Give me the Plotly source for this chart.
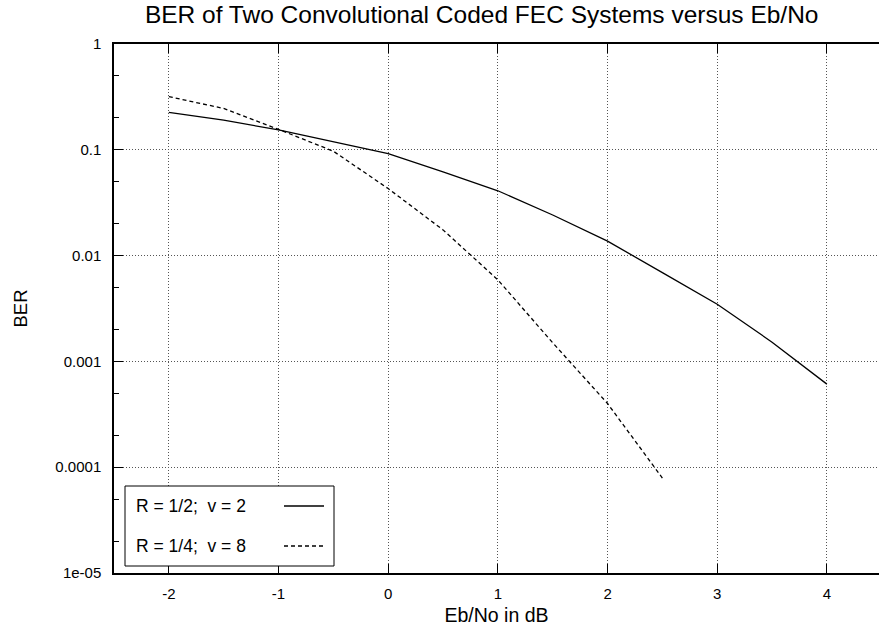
import plotly.graph_objects as go

# Eb/No sample points in dB
ebno_r12 = [-2, -1.5, -1, -0.5, 0, 0.5, 1, 1.5, 2, 2.5, 3, 3.5, 4]
ber_r12 = [0.226, 0.191, 0.154, 0.119, 0.092, 0.062, 0.041, 0.0242, 0.0137,
           0.0069, 0.00347, 0.00152, 0.00061]

ebno_r14 = [-2, -1.5, -1, -0.5, 0, 0.5, 1, 1.5, 2, 2.5]
ber_r14 = [0.318, 0.246, 0.156, 0.097, 0.043, 0.0175, 0.0059, 0.0015,
           0.0004, 0.000079]

series_names = ["R = 1/2;  v = 2", "R = 1/4;  v = 8"]
x_ticks = [-2, -1, 0, 1, 2, 3, 4]
y_ticks = [1, 0.1, 0.01, 0.001, 0.0001, 0.00001]
y_tick_text = ["1", "0.1", "0.01", "0.001", "0.0001", "1e-05"]

FONT = "Liberation Sans, Arial, sans-serif"
W, H = 879, 633
L, R, T, B = 114, 0, 44, 60

fig = go.Figure()
fig.add_trace(go.Scatter(x=ebno_r12, y=ber_r12, mode="lines", name=series_names[0],
                         line=dict(color="black", width=1.3), showlegend=False))
fig.add_trace(go.Scatter(x=ebno_r14, y=ber_r14, mode="lines", name=series_names[1],
                         line=dict(color="black", width=1.3, dash="4px,3px"),
                         showlegend=False))

# hand-built legend box: label text on the left, line sample on the right
pw = W - L - R
ph = H - T - B
def px(xp):
    return (xp - L) / pw
def py(yp):
    return 1 - (yp - T) / ph

shapes = [
    dict(type="rect", xref="paper", yref="paper",
         x0=px(125), x1=px(334), y0=py(566), y1=py(486),
         line=dict(color="black", width=1), fillcolor="white", layer="above"),
    dict(type="line", xref="paper", yref="paper",
         x0=px(284), x1=px(324), y0=py(506), y1=py(506),
         line=dict(color="black", width=1.3), layer="above"),
    dict(type="line", xref="paper", yref="paper",
         x0=px(284), x1=px(324), y0=py(546), y1=py(546),
         line=dict(color="black", width=1.3, dash="4px,3px"), layer="above"),
]
annotations = [
    dict(text=series_names[0], xref="paper", yref="paper", x=px(134), y=py(506),
         xanchor="left", yanchor="middle", showarrow=False,
         font=dict(family=FONT, size=17.5, color="black")),
    dict(text=series_names[1], xref="paper", yref="paper", x=px(134), y=py(546),
         xanchor="left", yanchor="middle", showarrow=False,
         font=dict(family=FONT, size=17.5, color="black")),
]

fig.update_layout(
    width=W, height=H,
    margin=dict(l=L, r=R, t=T, b=B, pad=0),
    paper_bgcolor="white", plot_bgcolor="white",
    font=dict(family=FONT, size=15, color="black"),
    title=dict(text="BER of Two Convolutional Coded FEC Systems versus Eb/No",
               x=0.548, xanchor="center",
               y=1 - 14 / H, yanchor="middle",
               font=dict(family=FONT, size=24.5, color="black")),
    shapes=shapes, annotations=annotations,
)

fig.update_xaxes(
    range=[-2.5, 4.475], tickvals=x_ticks, ticktext=[str(v) for v in x_ticks],
    ticks="inside", ticklen=9, tickcolor="black", tickwidth=1,
    showline=True, linecolor="black", linewidth=1.5, mirror="ticks",
    showgrid=True, gridcolor="#555", griddash="1px,2px", gridwidth=1,
    zeroline=False, ticklabelstandoff=6,
    title=dict(text="Eb/No in dB", standoff=8, font=dict(family=FONT, size=19.5)),
    tickfont=dict(family=FONT, size=15),
)
fig.update_yaxes(
    type="log", range=[-5, 0], tickvals=y_ticks, ticktext=y_tick_text,
    ticks="inside", ticklen=9, tickcolor="black", tickwidth=1,
    showline=True, linecolor="black", linewidth=1.5, mirror=False,
    showgrid=True, gridcolor="#555", griddash="1px,2px", gridwidth=1,
    zeroline=False, ticklabelstandoff=8,
    minor=dict(ticks="inside", ticklen=5, tickcolor="black", dtick="D2", showgrid=False),
    title=dict(text="BER", standoff=23, font=dict(family=FONT, size=18.5)),
    tickfont=dict(family=FONT, size=15),
)

fig.write_html("out.html")
